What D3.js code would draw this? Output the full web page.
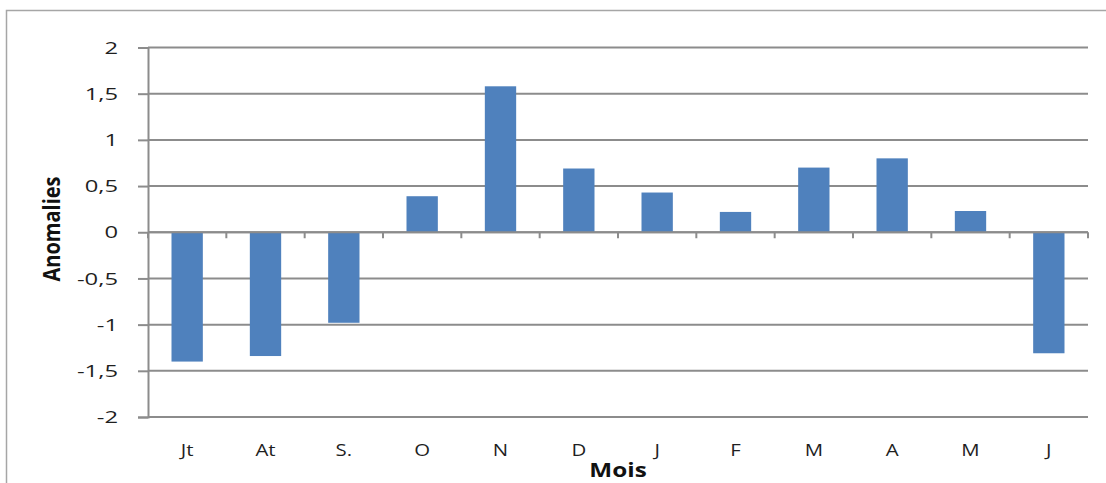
<!DOCTYPE html>
<html>
<head>
<meta charset="utf-8">
<script src="https://cdn.jsdelivr.net/npm/d3@7"></script>
<style>
  html, body { margin: 0; padding: 0; background: #fff; }
  svg { display: block; }
  text { font-family: "Open Sans", "Liberation Sans", sans-serif; }
</style>
</head>
<body>
<svg id="chart" width="1106" height="483"></svg>
<script>
// Monthly anomalies, July to June
const months = ["Jt", "At", "S.", "O", "N", "D", "J", "F", "M", "A", "M", "J"];
const anomalies = [-1.40, -1.34, -0.98, 0.39, 1.58, 0.69, 0.43, 0.22, 0.70, 0.80, 0.23, -1.31];
const yTicks = [-2, -1.5, -1, -0.5, 0, 0.5, 1, 1.5, 2];

const svg = d3.select("#chart");
const W = 1106, H = 483;
const plotL = 148, plotR = 1088, plotT = 47.5, plotB = 417;
const gridColor = "#8c8c8c";
const textColor = "#1f1f1f";

// outer frame: top and left edges
svg.append("path")
  .attr("d", `M6.5,${H} L6.5,10.5 L${W},10.5`)
  .attr("fill", "none").attr("stroke", "#a6a6a6").attr("stroke-width", 1.5);

// keys are indices so repeated month letters stay distinct
const x = d3.scaleBand().domain(d3.range(months.length)).range([plotL, plotR]).paddingInner(0.6).paddingOuter(0.3);
const y = d3.scaleLinear().domain([-2, 2]).range([plotB, plotT]);

const fmt = v => String(v).replace(".", ",");

// horizontal gridlines
svg.append("g").selectAll("line").data(yTicks).join("line")
  .attr("x1", plotL).attr("x2", plotR)
  .attr("y1", d => y(d)).attr("y2", d => y(d))
  .attr("stroke", gridColor).attr("stroke-width", 2);

// y axis (labels drawn separately with a wide stretch)
const yAxis = svg.append("g").attr("transform", `translate(${plotL},0)`)
  .call(d3.axisLeft(y).tickValues(yTicks).tickFormat("").tickSize(10));
yAxis.select(".domain").attr("stroke", gridColor).attr("stroke-width", 2);
yAxis.selectAll(".tick line").attr("stroke", gridColor).attr("stroke-width", 2);

svg.append("g").selectAll("text").data(yTicks).join("text")
  .attr("transform", d => `translate(118,${y(d)}) scale(1.4,1)`)
  .attr("dy", "0.36em")
  .attr("text-anchor", "end")
  .attr("font-size", 17).attr("fill", textColor)
  .text(fmt);

// bars
svg.append("g").selectAll("rect").data(anomalies).join("rect")
  .attr("x", (d, i) => x(i))
  .attr("width", x.bandwidth())
  .attr("y", d => y(Math.max(0, d)))
  .attr("height", d => Math.abs(y(d) - y(0)))
  .attr("fill", "#4f81bd");

// zero line with category separator ticks
const step = (plotR - plotL) / months.length;
const sep = d3.range(months.length + 1).map(i => plotL + i * step);
svg.append("line").attr("x1", plotL).attr("x2", plotR)
  .attr("y1", y(0)).attr("y2", y(0))
  .attr("stroke", gridColor).attr("stroke-width", 2);
svg.append("g").selectAll("line").data(sep).join("line")
  .attr("x1", d => d).attr("x2", d => d)
  .attr("y1", y(0)).attr("y2", y(0) + 6)
  .attr("stroke", gridColor).attr("stroke-width", 2);

// month labels
svg.append("g").selectAll("text").data(months).join("text")
  .attr("transform", (d, i) => `translate(${x(i) + x.bandwidth() / 2},456) scale(1.2,1)`)
  .attr("text-anchor", "middle")
  .attr("font-size", 17).attr("fill", textColor)
  .text(d => d);

// axis titles
svg.append("text")
  .attr("transform", "translate(618,476.5) scale(1.28,1)")
  .attr("text-anchor", "middle")
  .attr("font-size", 19).attr("font-weight", "bold").attr("fill", "#111")
  .text("Mois");

svg.append("text")
  .attr("transform", "translate(60,229) scale(1.2,1) rotate(-90)")
  .attr("text-anchor", "middle")
  .attr("font-size", 20).attr("font-weight", "bold").attr("fill", "#111")
  .text("Anomalies");
</script>
</body>
</html>
